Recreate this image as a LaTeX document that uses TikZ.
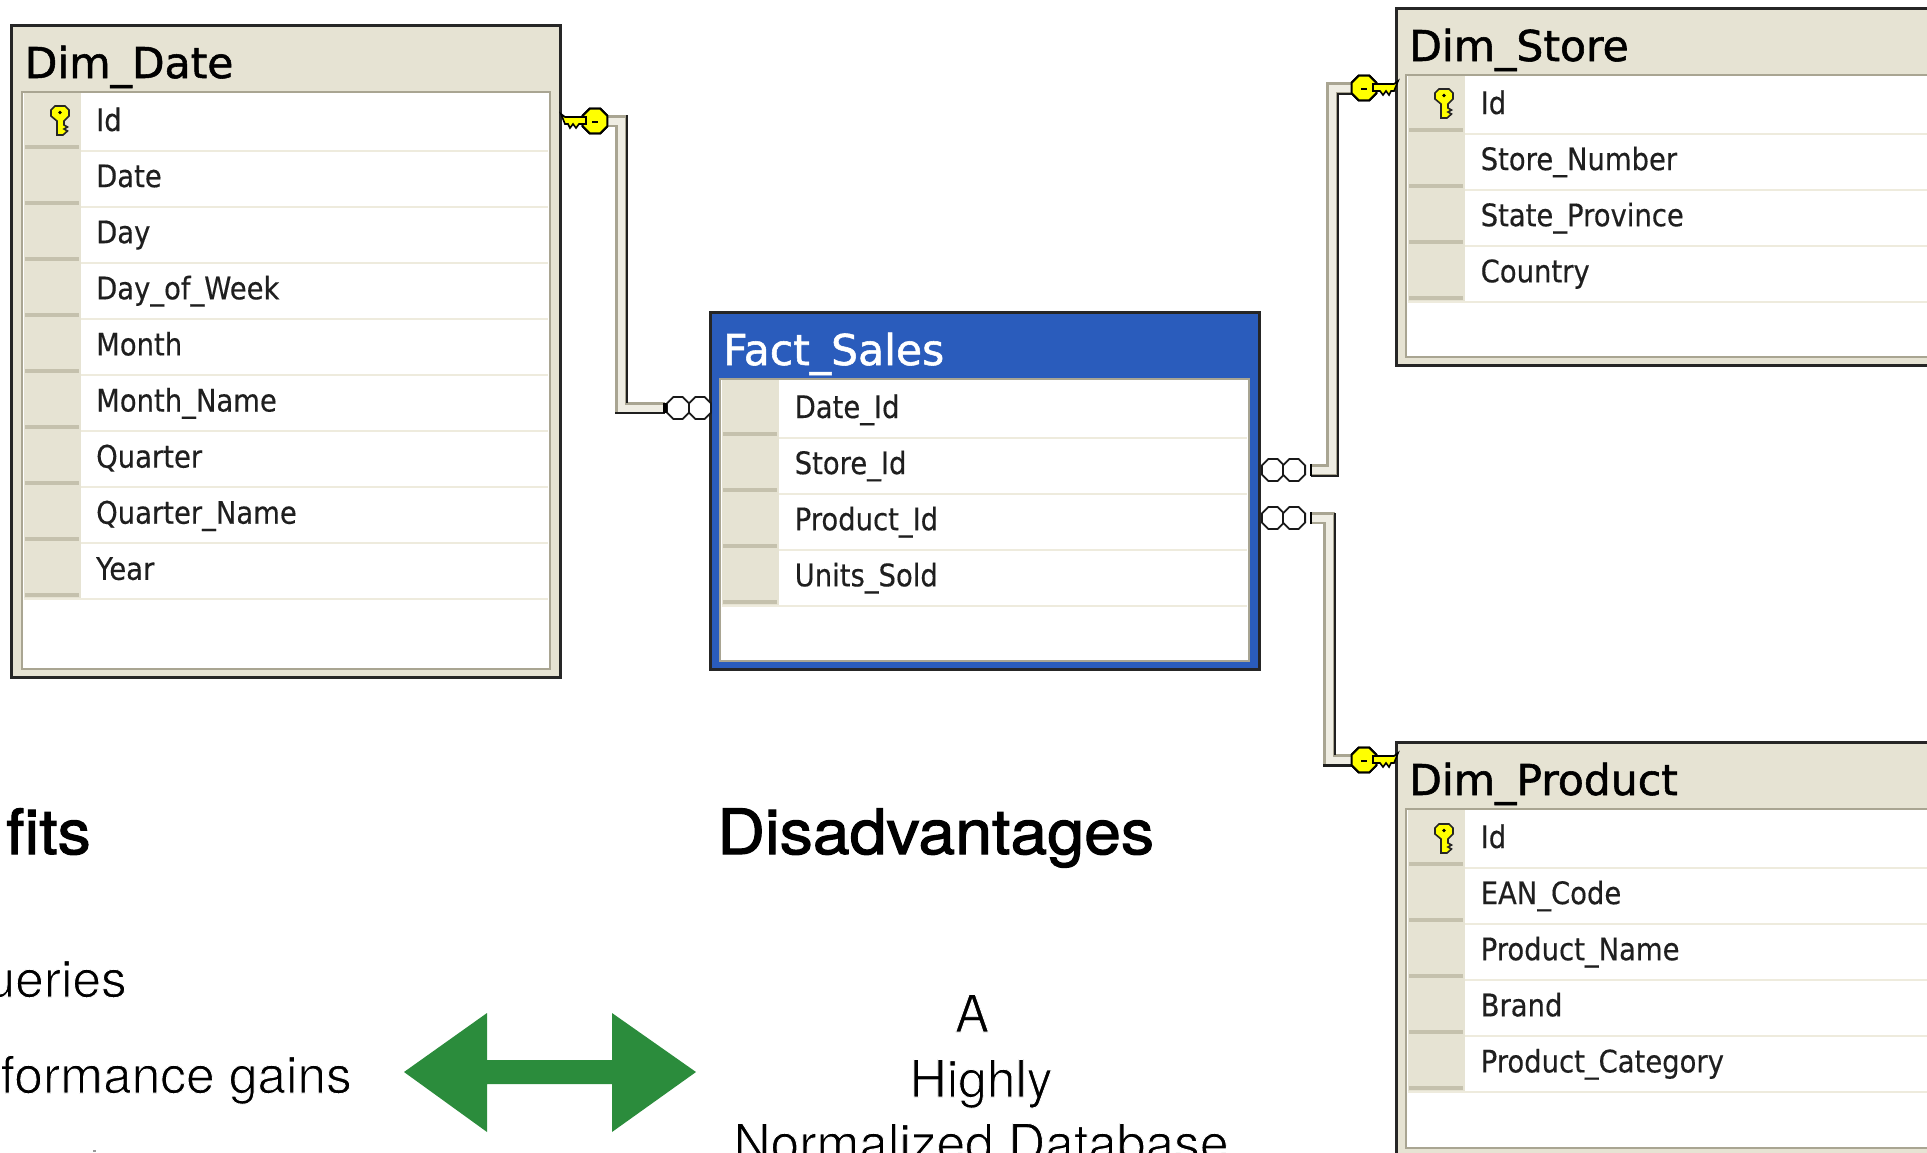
\documentclass[tikz,border=0pt]{standalone}
\usepackage{fontspec}
\usetikzlibrary{shapes.geometric}
\newfontfamily\erfont[FakeStretch=0.885,FakeBold=0.35]{DejaVu Sans}
\newfontfamily\ertitlefont[FakeBold=1.3]{DejaVu Sans}
\newfontfamily\slidefont{TeX Gyre Heros}
\newfontfamily\slideheadfont[FakeStretch=1.06,FakeBold=1.7]{TeX Gyre Heros}
\newcommand{\thintext}[1]{\special{pdf:code q 2 Tr 0.9 w 1 1 1 RG}#1\special{pdf:code Q}}
\definecolor{panelbeige}{HTML}{E6E3D3}
\definecolor{shadowbeige}{HTML}{C5C1AD}
\definecolor{rowline}{HTML}{EEEBDD}
\definecolor{edgegrey}{HTML}{A9A592}
\definecolor{factblue}{HTML}{2A5CBC}
\definecolor{bandpale}{HTML}{EFEDE3}
\definecolor{arrowgreen}{HTML}{2B8C3C}
\definecolor{keyyellow}{HTML}{FFFF00}
\tikzset{
  x=1pt,y=-1pt,
  tableborder/.style={draw=black!85,line width=3pt},
  innerpanel/.style={draw=edgegrey,line width=2pt,fill=white},
  rowtext/.style={anchor=base west,inner sep=0pt,text=black!88,font=\erfont\fontsize{31}{36}\selectfont},
  titletext/.style={anchor=base west,inner sep=0pt,font=\ertitlefont\fontsize{42.5}{48}\selectfont},
  headbold/.style={anchor=base west,inner sep=0pt,font=\slideheadfont\fontsize{62.5}{70}\selectfont},
  bodyright/.style={anchor=base east,inner sep=0pt,text=black,font=\slidefont\fontsize{51.5}{60}\selectfont},
  bodycentre/.style={anchor=base,inner sep=0pt,text=black,font=\slidefont\fontsize{51.5}{60}\selectfont},
  keyhead/.style={regular polygon,regular polygon sides=8,draw=black,line width=2pt,fill=keyyellow,minimum size=27pt,inner sep=0pt},
  crowcircle/.style={regular polygon,regular polygon sides=8,draw=black!90,line width=1.8pt,fill=white,minimum size=24pt,inner sep=0pt},
  bandouter/.style={draw=edgegrey,line width=11.5pt},
  bandinner/.style={draw=bandpale,line width=7pt},
  banddark/.style={draw=black!88,line width=2.8pt},
  pics/keybit/.style={code={
    \fill[keyyellow,draw=black,line width=1.6pt] (9,-4) -- (30,-4) -- (34,-7) -- (30,3) -- (27,3) -- (25,7) -- (22,3) -- (19,7) -- (16,3) -- (9,3) -- cycle;
  }},
  pics/smallkey/.style={code={
    \fill[keyyellow,draw=black!85,line width=1.6pt] (-9,3) -- (-5,-1) -- (5,-1) -- (9,3) -- (9,9) -- (4,14) -- (4,18) -- (7.5,20) -- (4,22) -- (7.5,24) -- (3,28) -- (-3,28) -- (-3,14) -- (-9,9) -- cycle;
    \fill[black] (0,5.5) circle[radius=1.8];
  }},
}
\newcommand{\ertable}[9]{%
  \path[tableborder,fill=#6] (#2,#3) rectangle (#4,#5);
  \path[innerpanel] (#2+10,#3+66) rectangle (#4-10,#5-8);
  \node[titletext,text=#7] (#1-title) at (#2+13,#3+52.5) {#8};
  \foreach \rowname [count=\rownum] in {#9} {
    \pgfmathsetmacro{\rowline}{#3+125+56.1*(\rownum-1)}
    \fill[panelbeige] (#2+12,\rowline-57.5) rectangle (#2+69,\rowline);
    \fill[shadowbeige] (#2+13,\rowline-6) rectangle (#2+67,\rowline-2);
    \draw[rowline,line width=2pt] (#2+12,\rowline) -- (#4-12,\rowline);
    \node[rowtext] (#1-\rownum) at (#2+84.5,\rowline-19.5) {\rowname};
  }
}
\newcommand{\keyhole}[1]{\fill[black] ([xshift=-3]#1.center) rectangle ([xshift=3,yshift=-1.5]#1.center);}
\begin{document}
\begin{tikzpicture}
\useasboundingbox (0,0) rectangle (1927,1152);
\clip (0,0) rectangle (1927,1152);

% tables
\ertable{date}{11.5}{25.5}{560}{677}{panelbeige}{black}{Dim\_Date}{Id,Date,Day,Day\_of\_Week,Month,Month\_Name,Quarter,Quarter\_Name,Year}
\ertable{fact}{710}{312.5}{1259}{669}{factblue}{white}{Fact\_Sales}{Date\_Id,Store\_Id,Product\_Id,Units\_Sold}
\ertable{store}{1396}{8.5}{1945}{365}{panelbeige}{black}{Dim\_Store}{Id,Store\_Number,State\_Province,Country}
\ertable{prod}{1396}{742.5}{1945}{1156}{panelbeige}{black}{Dim\_Product}{Id,EAN\_Code,Product\_Name,Brand,Product\_Category}

% primary key markers in the gutters
\pic at (60,107) {smallkey};
\pic at (1444,90) {smallkey};
\pic at (1444,825) {smallkey};

% relationship end points
\node[keyhead] (k1) at (595,121) {};
\node[keyhead] (k2) at (1364,88) {};
\node[keyhead] (k3) at (1364,760) {};
\node[crowcircle] (c1a) at (678,408) {};
\node[crowcircle] (c1b) at (700,408) {};
\node[crowcircle] (c2a) at (1273,470) {};
\node[crowcircle] (c2b) at (1294,470) {};
\node[crowcircle] (c3a) at (1273,518) {};
\node[crowcircle] (c3b) at (1294,518) {};
\coordinate (b1) at (621,121);
\coordinate (e1) at (665,408);
\coordinate (b2) at (1332,88);
\coordinate (e2) at (1311,470);
\coordinate (b3) at (1329,760);
\coordinate (e3) at (1311,518);

% connectors: pale band with a grey and a dark edge
\foreach \bandstyle in {bandouter,bandinner}{
  \draw[\bandstyle] (k1.center) -- (b1) |- (e1);
  \draw[\bandstyle] (k2.center) -- (b2) |- (e2);
  \draw[\bandstyle] (k3.center) -- (b3) |- (e3);
}
\draw[banddark] ([xshift=6,yshift=6]b1) -- ([xshift=6,yshift=5]b1 |- e1);
\draw[banddark] ([xshift=-6,yshift=-5]b1 |- e1) -- ([yshift=-5]e1);
\draw[banddark] ([yshift=-6]k2.center) -- ([xshift=6,yshift=-6]b2) -- ([xshift=6,yshift=-6]b2 |- e2) -- ([yshift=-6]e2);
\draw[banddark] ([xshift=6,yshift=5]b3 |- e3) -- ([xshift=6,yshift=5]b3);
\draw[banddark] ([xshift=-6,yshift=-5.5]b3) -- ([yshift=-5.5]k3.center);
\draw[black,line width=4pt] ([yshift=-5]e1) -- ([yshift=5]e1);
\draw[black,line width=1.8pt] ([yshift=-6]e2) -- ([yshift=6]e2);
\draw[black,line width=1.8pt] ([yshift=-6]e3) -- ([yshift=6]e3);

% keys on the links
\node[keyhead] at (k1.center) {};
\node[keyhead] at (k2.center) {};
\node[keyhead] at (k3.center) {};
\pic at (k1.center) [xscale=-1] {keybit};
\pic at (k2.center) {keybit};
\pic at (k3.center) {keybit};
\keyhole{k1}\keyhole{k2}\keyhole{k3}

% slide text
\node[headbold,anchor=base east] (benefits) at (91,854) {fits};
\node[headbold] (disadv) at (717,854) {Disadvantages};
\node[bodyright] (line1) at (127,997) {\thintext{ueries}};
\node[bodyright] (line2) at (352,1093) {\thintext{formance gains}};
\node[bodycentre] (a1) at (972,1032) {\thintext{A}};
\node[bodycentre] (a2) at (981,1097) {\thintext{Highly}};
\node[bodycentre] (a3) at (981,1161) {\thintext{Normalized Database}};
\fill[black!40] (92.5,1150) rectangle (95.5,1152);

% green double arrow
\fill[arrowgreen] (404,1072) -- (487,1013) -- (487,1060) -- (612,1060) -- (612,1013) -- (696,1072) -- (612,1132) -- (612,1084) -- (487,1084) -- (487,1132) -- cycle;
\end{tikzpicture}
\end{document}
